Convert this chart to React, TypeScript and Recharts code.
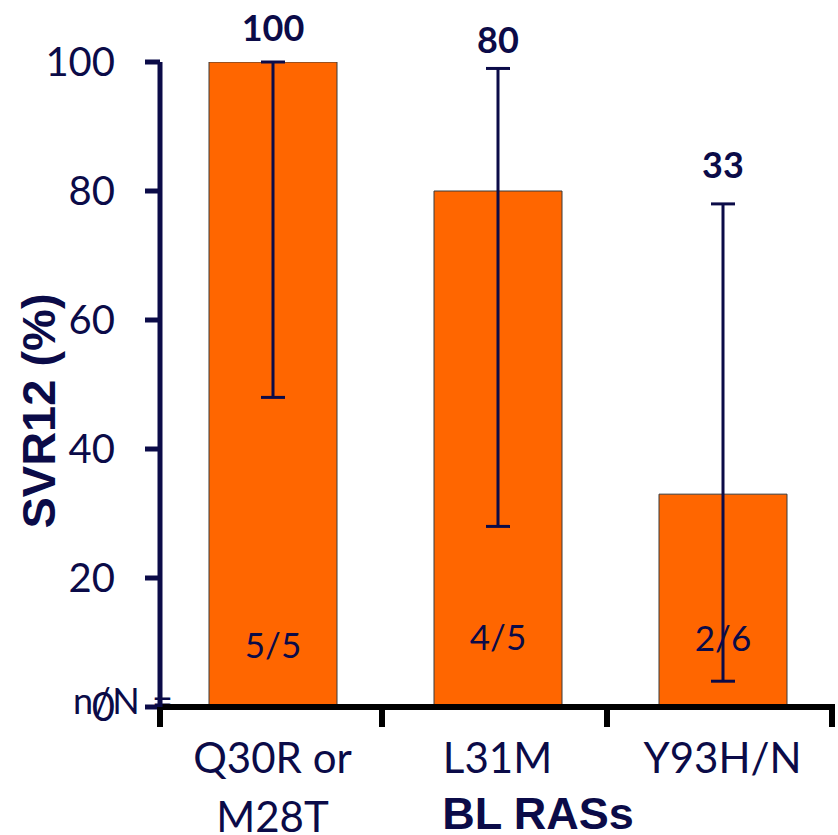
import React from "react";
import { BarChart, Bar, XAxis, YAxis, ErrorBar, LabelList, Customized } from "recharts";

// ---- data ----
const categories: string[][] = [["Q30R or", "M28T"], ["L31M"], ["Y93H/N"]];
const svr12 = [100, 80, 33];
const ciLower = [48, 28, 4];
const ciUpper = [100, 99, 78];
const nOverN = ["5/5", "4/5", "2/6"];
const yTicks = [0, 20, 40, 60, 80, 100];

// ---- styles ----
const NAVY = "#0b0b48";
const ORANGE = "#ff6600";
const CALIBRI = "Lato, 'Open Sans', sans-serif";
const ARIAL = "'Liberation Sans', Arial, sans-serif";
const W = 838;
const H = 835;
const M = { top: 62, right: 3, bottom: 0, left: 0 };
const Y_AXIS_W = 160;
const X_AXIS_H = 128;
const topLabelGap = [35, 29, 40];
const nLabelGap = [63, 71, 70];

const data = categories.map((c, i) => ({
  name: c.join("|"),
  value: svr12[i],
  err: [svr12[i] - ciLower[i], ciUpper[i] - svr12[i]],
  nN: nOverN[i],
}));

const getBox = (p: any) => {
  const vb = p.viewBox && typeof p.viewBox.x === "number" ? p.viewBox : p;
  return { x: Number(vb.x), y: Number(vb.y), width: Number(vb.width), height: Number(vb.height) };
};

const TopLabel = (props: any) => {
  const { index, value } = props;
  const b = getBox(props);
  const ppu = b.height / svr12[index];
  const yTop = b.y - (ciUpper[index] - svr12[index]) * ppu;
  return (
    <text
      x={b.x + b.width / 2}
      y={yTop - topLabelGap[index]}
      textAnchor="middle"
      dominantBaseline="central"
      fill={NAVY}
      fontFamily={CALIBRI}
      fontWeight={700}
      fontSize={36}
    >
      {value}
    </text>
  );
};

const NLabel = (props: any) => {
  const { index, value } = props;
  const b = getBox(props);
  return (
    <text
      x={b.x + b.width / 2}
      y={b.y + b.height - nLabelGap[index]}
      textAnchor="middle"
      dominantBaseline="central"
      fill={NAVY}
      fontFamily={CALIBRI}
      fontSize={35}
    >
      {value}
    </text>
  );
};

const plotW = W - M.left - M.right - Y_AXIS_W;
const halfBand = plotW / categories.length / 2;

const XTick = (props: any) => {
  const { x, y, payload, index } = props;
  const lines = String(payload.value).split("|");
  return (
    <g>
      {index === 0 && (
        <line x1={x - halfBand} x2={x - halfBand} y1={y} y2={y + 20} stroke="#000" strokeWidth={6} />
      )}
      <line x1={x + halfBand - 3} x2={x + halfBand - 3} y1={y} y2={y + 20} stroke="#000" strokeWidth={6} />
      {lines.map((l, i) => (
        <text
          key={i}
          x={x}
          y={y + 50 + i * 59}
          textAnchor="middle"
          dominantBaseline="central"
          fill={NAVY}
          fontFamily={CALIBRI}
          fontSize={42}
        >
          {l}
        </text>
      ))}
    </g>
  );
};

const Titles = () => (
  <g>
    <text
      x={538}
      y={813}
      textAnchor="middle"
      dominantBaseline="central"
      fill={NAVY}
      fontFamily={ARIAL}
      fontWeight={700}
      fontSize={45}
    >
      BL RASs
    </text>
    <text
      x={38}
      y={411}
      textAnchor="middle"
      dominantBaseline="central"
      transform="rotate(-90 38 411)"
      fill={NAVY}
      fontFamily={ARIAL}
      fontWeight={700}
      fontSize={47}
    >
      SVR12 (%)
    </text>
    <text
      x={73}
      y={700}
      textAnchor="start"
      dominantBaseline="central"
      fill={NAVY}
      fontFamily={CALIBRI}
      fontSize={36}
      letterSpacing={1.5}
    >
      n/N =
    </text>
  </g>
);

export default function App() {
  return (
    <div style={{ position: "absolute", left: 0, top: 0, width: W, height: H, background: "#fff" }}>
      <BarChart width={W} height={H} data={data} margin={M}>
        <XAxis
          dataKey="name"
          height={X_AXIS_H}
          axisLine={{ stroke: "#000", strokeWidth: 6 }}
          tickLine={false}
          tickSize={0}
          tickMargin={0}
          tick={<XTick />}
          interval={0}
        />
        <YAxis
          width={Y_AXIS_W}
          domain={[0, 100]}
          ticks={yTicks}
          allowDataOverflow
          axisLine={{ stroke: NAVY, strokeWidth: 5 }}
          tickLine={{ stroke: NAVY, strokeWidth: 5 }}
          tickSize={15}
          tickMargin={30}
          tick={{ fill: NAVY, fontFamily: CALIBRI, fontSize: 40 }}
        />
        <Bar dataKey="value" fill={ORANGE} stroke="#3a3a3a" strokeWidth={1} barSize={128} isAnimationActive={false}>
          <LabelList dataKey="nN" content={<NLabel />} />
          <ErrorBar dataKey="err" direction="y" width={12} stroke={NAVY} strokeWidth={3} />
          <LabelList dataKey="value" content={<TopLabel />} />
        </Bar>
        <Customized component={<Titles />} />
      </BarChart>
    </div>
  );
}
